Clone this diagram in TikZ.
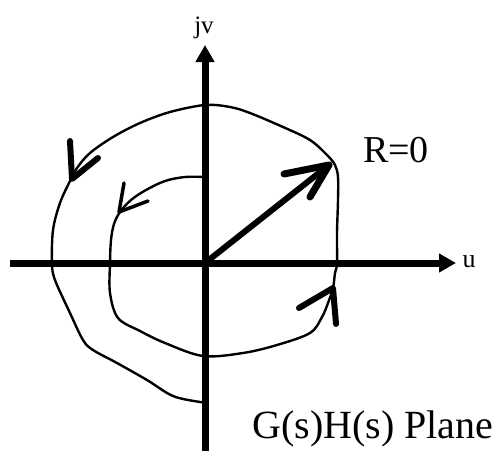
\documentclass[tikz,border=0pt]{standalone}
\usepackage{fontspec}
\setmainfont{Liberation Serif}
\usetikzlibrary{arrows.meta, positioning, calc}
\tikzset{
  x=1pt, y=-1pt,
  axis/.style={line width=7pt, -{Triangle[length=17pt, width=18pt]}},
  curve/.style={line width=2.4pt, line join=round, line cap=round},
  barb/.style={line width=6pt, line cap=round, line join=round},
  barbt/.style={barb, line width=3.5pt},
  vec/.style={line width=6pt, line cap=round},
  lbl/.style={inner sep=0pt, anchor=base},
}

\begin{document}
\begin{tikzpicture}
      \useasboundingbox (0,0) rectangle (504,451);
      % axes
      \coordinate (o) at (205,263);
      \coordinate (uend) at (456,263);
      \coordinate (vend) at (205,45);
      \draw[axis] (10,263) -- (uend);
      \draw[axis] (205,451) -- (vend);
      \node[lbl, font=\fontsize{26}{26}\selectfont] (ulbl) at (469,267) {u};
      \node[lbl, font=\fontsize{25}{25}\selectfont] (vlbl) at (204,33) {jv};
      % radius vector
      \coordinate (tip) at (329,165);
      \draw[vec] (o) -- (tip);
      \draw[barb, line width=7pt] (284,174) -- (tip) -- (310,197);
      \node[lbl, font=\fontsize{38}{38}\selectfont] (rlbl) at (396,162) {R=0};
      % mapped contour, inner turn to outer turn
      \draw[curve] plot[smooth, tension=0.55] coordinates {
        (205,177) (185,177) (165,181) (146,190) (131,200) (120,212) (114,224)
        (111,240) (110,263) (110,293) (118,318) (140,331) (165,343) (203,356)
        (243,353) (277,345) (310,333) (322,317) (328,303) (333,288)
        (335,273) (337,263) (337,233) (338,200) (338,177) (335,165) (327,155)
        (310,140) (283,127) (250,113) (230,107) (205,105) (170,112) (140,123)
        (113,137) (90,153) (77,168) (70,181) (60,203) (53,230) (52,263)
        (55,280) (70,313) (83,340) (93,350) (117,363) (147,380) (173,396)
        (200,402) (205,402)};
      % direction marks on the contour
      \draw[barb] (70,141) -- (72,179) -- (98,158);
      \draw[barbt] (124,183) -- (119,212) -- (148,201);
      \draw[barb] (299,308) -- (333,288) -- (336,324);
      \node[lbl, font=\fontsize{40}{40}\selectfont] (plbl) at (373,438) {G(s)H(s) Plane};
    \end{tikzpicture}
\end{document}
